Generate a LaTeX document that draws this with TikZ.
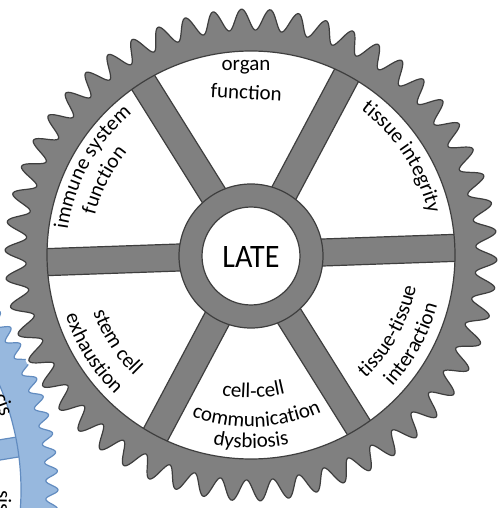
\documentclass[tikz,border=0pt]{standalone}
\usepackage{graphicx}
\usepackage{fontspec}
\setmainfont{Carlito}
\usetikzlibrary{decorations.text}

\definecolor{gearfill}{RGB}{128,128,128}
\definecolor{gearedge}{RGB}{62,62,62}
\definecolor{bluefill}{RGB}{151,184,222}
\definecolor{blueedge}{RGB}{98,140,192}
\newcommand{\sectorfont}{\fontsize{21}{25}\selectfont}

\begin{document}
\begin{tikzpicture}[x=1pt, y=1pt,
    arctext/.style={decorate, decoration={text along path, text align=center, text={|\sectorfont|#1}}}]
    \tikzstyle{gearbody}=[fill=gearfill, draw=gearedge, line width=1.2pt]
    \tikzstyle{bluebody}=[fill=bluefill, draw=blueedge, line width=1.2pt]

    \useasboundingbox (-251,-253) rectangle (247,255);
    \clip (-251,-253) rectangle (247,255);

    % the blue gear behind, cut by the border
    \draw[bluebody] (-496,-235) -- plot[domain=-20:45, samples=400, variable=\t]
        ({-496+(297+6*cos(100*\t))*cos(\t)}, {-235+(297+6*cos(100*\t))*sin(\t)}) -- cycle;
    \fill[white] (-496,-235) circle (266);
    \begin{scope}
        \clip (-496,-235) circle (266);
        \draw[bluebody, rotate around={9.3:(-496,-235)}] (-496,-245) rectangle (-216,-225);
    \end{scope}
    \draw[draw=blueedge, line width=1.2pt] (-496,-235) circle (266);
    \node[rotate=-70, font=\sectorfont] (bluea) at (-247,-149) {cis};
    \node[rotate=-91, font=\sectorfont] (blueb) at (-247,-246) {sis};

    % the gray gear
    \draw[gearbody, preaction={draw=white, line width=6pt}]
        plot[domain=-180:180, samples=1081, variable=\t]
        ({(235.5+10.5*cos(54*\t-298.6))*cos(\t)}, {(235.5+10.5*cos(54*\t-298.6))*sin(\t)}) -- cycle;
    \fill[white] (0,0) circle (204);
    \begin{scope}
        \clip (0,0) circle (204);
        \foreach \a in {2,62,...,302}
            \draw[gearbody, rotate=\a] (40,-13.5) rectangle (220,13.5);
    \end{scope}
    \draw[draw=gearedge, line width=1.2pt] (0,0) circle (204);
    \node[circle, gearbody, minimum size=144pt, inner sep=0pt] (hub) at (0,-1) {};
    \node[circle, fill=white, draw=gearedge, line width=1.2pt, minimum size=98pt, inner sep=0pt] (late) at (0,-1) {};
    \node (latetext) at (0,-2) {\resizebox{57pt}{21pt}{LATE}};

    % sector texts
    \node[font=\sectorfont, anchor=base] (organ) at (-5,184) {organ};
    \node[font=\sectorfont, anchor=base, rotate=-3] (organfn) at (-5,156) {function};
    \path[arctext={tissue integrity}] (73:182) arc[start angle=73, end angle=-7, radius=182];
    \path[arctext={immune system}] (191:185) arc[start angle=191, end angle=111, radius=185];
    \path[arctext={function}] (193:161) arc[start angle=193, end angle=113, radius=161];
    \path[arctext={tissue-tissue}] (-69:168) arc[start angle=-69, end angle=11, radius=168];
    \path[arctext={interaction}] (-69:193) arc[start angle=-69, end angle=11, radius=193];
    \path[arctext={cell-cell}] (-129:143) arc[start angle=-129, end angle=-49, radius=143];
    \path[arctext={communication}] (-128:172) arc[start angle=-128, end angle=-48, radius=172];
    \path[arctext={dysbiosis}] (-130:193) arc[start angle=-130, end angle=-50, radius=193];
    \path[arctext={stem cell}] (173:168) arc[start angle=173, end angle=253, radius=168];
    \path[arctext={exhaustion}] (172:195) arc[start angle=172, end angle=252, radius=195];
\end{tikzpicture}
\end{document}
